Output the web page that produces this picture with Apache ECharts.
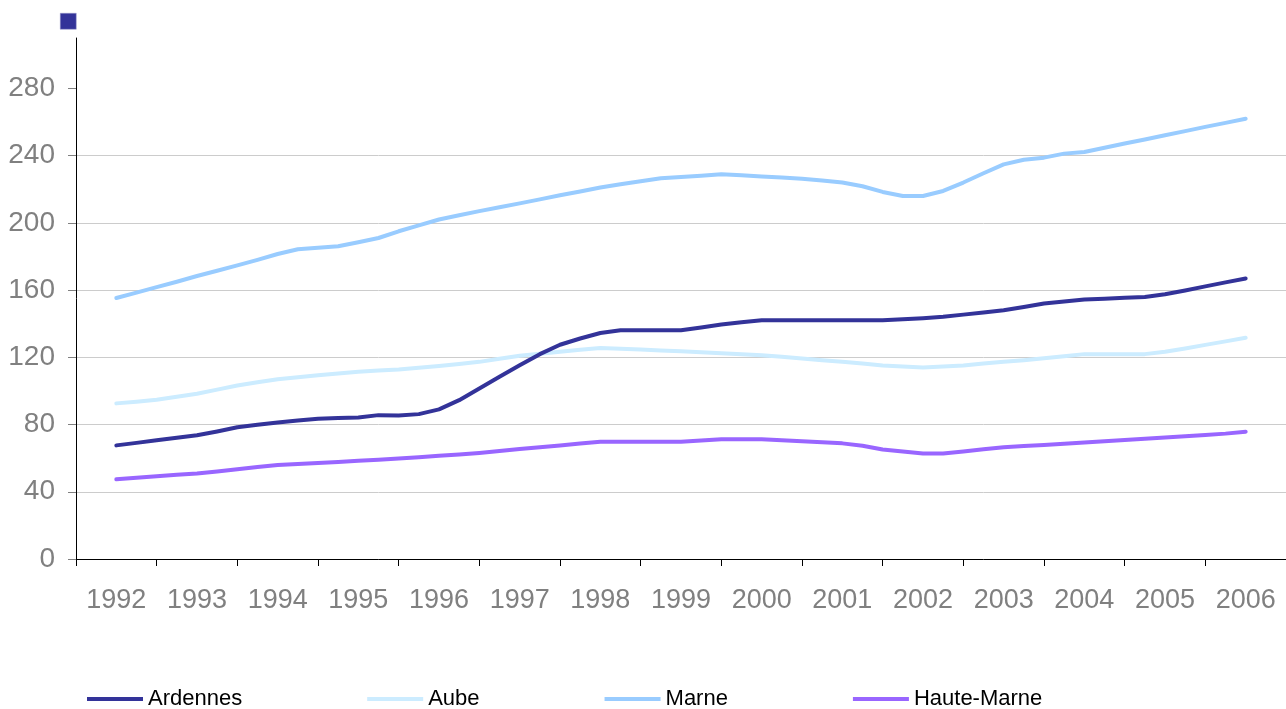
<!DOCTYPE html>
<html>
<head>
<meta charset="utf-8">
<script src="https://cdn.jsdelivr.net/npm/echarts@6/dist/echarts.min.js"></script>
<style>
html,body{margin:0;padding:0;background:#fff;}
#chart{width:1286px;height:709px;}
</style>
</head>
<body>
<div id="chart"></div>
<script>
// Year categories (axis labels)
var years = ['1992','1993','1994','1995','1996','1997','1998','1999','2000','2001','2002','2003','2004','2005','2006'];
// Y tick values
var yTicks = [0, 40, 80, 120, 160, 200, 240, 280];
// Quarterly values, 1992 Q1 .. 2006 Q1 (57 points)
var ardennes = [67.6,69.1,70.6,72.1,73.6,75.9,78.4,79.9,81.2,82.4,83.5,83.9,84.2,85.6,85.4,86.2,89,94.5,101.5,108.4,115.3,121.9,127.5,131.2,134.5,136.1,136.1,136.1,136.1,137.8,139.5,140.9,142.1,142.1,142.1,142.1,142.1,142.1,142.1,142.6,143.3,144.1,145.4,146.7,148,150,152,153.2,154.4,154.9,155.4,155.9,157.5,159.8,162.2,164.6,166.9];
var aube = [92.6,93.6,94.8,96.5,98.3,100.8,103.2,105.2,107,108.2,109.4,110.4,111.4,112.1,112.8,113.8,114.9,116,117.3,119.1,120.9,122.1,123.3,124.5,125.6,125.1,124.6,124.1,123.6,123.0,122.4,121.8,121.2,120.3,119.3,118.3,117.3,116.3,115.2,114.5,114,114.5,115.2,116.3,117.3,118.3,119.5,120.7,121.9,121.9,121.9,121.9,123.3,125.3,127.4,129.5,131.6];
var marne = [155.3,158.5,161.8,165,168.4,171.5,174.7,178,181.5,184.3,185.2,186.1,188.5,191,195,198.5,202,204.5,207,209.3,211.6,214,216.4,218.7,221,223,224.8,226.5,227.3,228,228.9,228.3,227.6,227,226.3,225.2,224,221.8,218.4,216,216,219,224,229.5,234.8,237.6,238.8,241.2,242.2,244.7,247.2,249.6,252.1,254.6,257.1,259.5,262];
var hauteMarne = [47.4,48.3,49.2,50.1,50.9,52.1,53.4,54.7,55.9,56.5,57.1,57.7,58.4,59.1,59.8,60.6,61.4,62.2,63.1,64.2,65.4,66.5,67.6,68.7,69.7,69.7,69.7,69.7,69.7,70.5,71.2,71.2,71.2,70.6,70.0,69.4,68.8,67.4,65.2,64,62.8,62.8,64,65.3,66.5,67.2,67.8,68.6,69.3,70.1,70.8,71.6,72.3,73.1,73.8,74.6,75.7];
var seriesNames = ['Ardennes','Aube','Marne','Haute-Marne'];
var seriesData = [ardennes, aube, marne, hauteMarne];
var colors = ['#333399','#CCECFF','#99CCFF','#9966FF'];

function toPairs(arr){ return arr.map(function(v,i){ return [i/4, v]; }); }

var chart = echarts.init(document.getElementById('chart'), null, {renderer:'canvas'});
var option = {
  animation: false,
  backgroundColor: '#ffffff',
  grid: {left: 76, top: 38, width: 1212, bottom: 150, containLabel: false},
  legend: {
    data: seriesNames,
    left: 82, top: 683,
    itemWidth: 56, itemHeight: 4, itemGap: 125,
    icon: 'rect',
    textStyle: {fontFamily: 'Liberation Sans, Arial, sans-serif', fontSize: 22, color: '#000'}
  },
  xAxis: [{
    type: 'category',
    data: years,
    boundaryGap: true,
    axisLine: {lineStyle: {color: '#000', width: 1}},
    axisTick: {show: true, interval: 0, length: 7, lineStyle: {color: '#000'}},
    axisLabel: {interval: 0, margin: 28, fontFamily: 'Liberation Sans, Arial, sans-serif', fontSize: 27, color: '#808080'},
    splitLine: {show: false}
  },{
    type: 'value',
    min: -0.5, max: 14.5,
    show: false,
    splitLine: {show: false}
  }],
  yAxis: {
    type: 'value',
    min: 0, max: 310, interval: 40,
    axisLine: {show: true, onZero: false, lineStyle: {color: '#000', width: 1}},
    axisTick: {show: true, length: 8, lineStyle: {color: '#808080'}, customValues: yTicks},
    axisLabel: {margin: 21, fontFamily: 'Liberation Sans, Arial, sans-serif', fontSize: 28, color: '#808080', customValues: yTicks,
      formatter: function(v){ return v > 280 ? '' : String(v); }},
    splitLine: {show: true, showMaxLine: false, lineStyle: {color: '#CCCCCC', width: 1}}
  },
  graphic: [{
    type: 'rect', left: 60, top: 13,
    shape: {width: 16, height: 16},
    style: {fill: '#333399', stroke: '#9999cc', lineWidth: 0.5}
  }],
  series: seriesNames.map(function(n, i){
    return {
      name: n, type: 'line', xAxisIndex: 1,
      data: toPairs(seriesData[i]),
      symbol: 'none',
      color: colors[i],
      lineStyle: {width: 4, color: colors[i], cap: 'round', join: 'round'},
      z: 2 + (i === 0 ? 3 : i)
    };
  })
};
chart.setOption(option);
</script>
</body>
</html>
